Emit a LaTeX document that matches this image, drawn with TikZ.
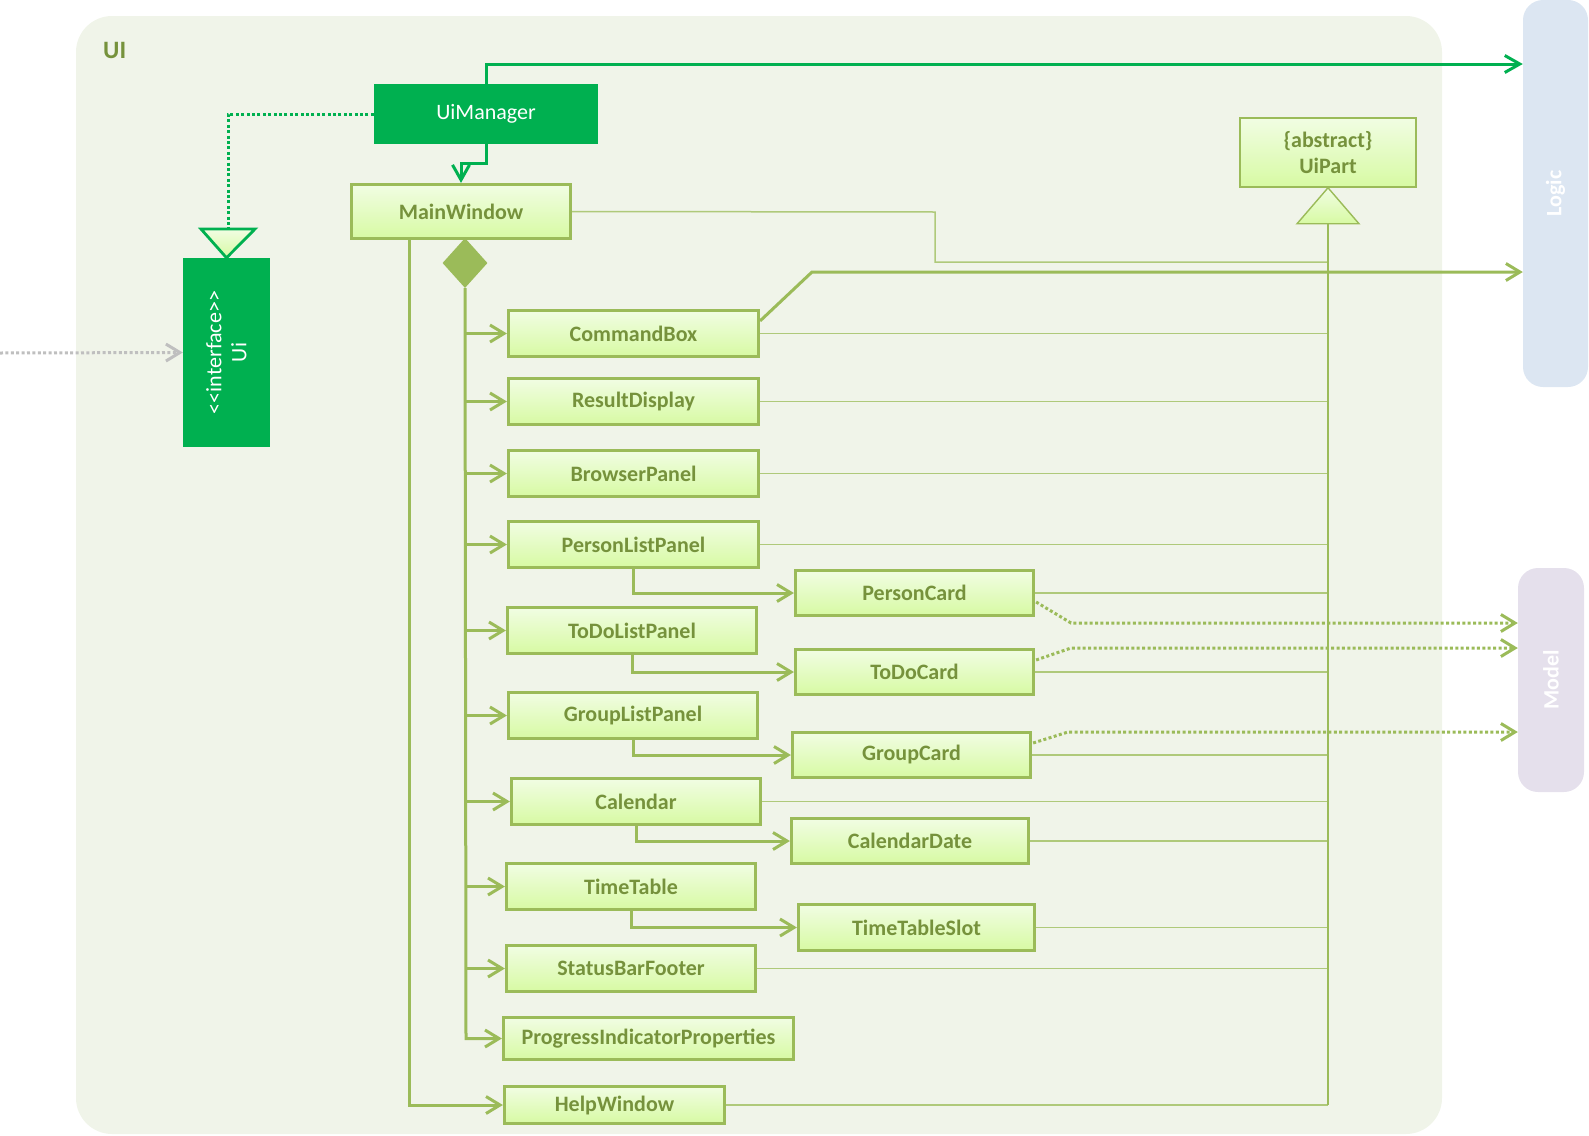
\documentclass[tikz,border=0pt]{standalone}
\usepackage{fontspec}
\setmainfont{Carlito}
\usetikzlibrary{arrows.meta,shapes.geometric,calc}
\definecolor{uigreen}{HTML}{00B050}
\definecolor{olive}{HTML}{9BBB59}
\definecolor{olivetext}{HTML}{76923C}
\definecolor{uibg}{HTML}{F0F4E9}
\definecolor{logicbg}{HTML}{DCE6F2}
\definecolor{modelbg}{HTML}{E5E0EC}
\definecolor{boxtop}{HTML}{F1FDE3}
\definecolor{boxbot}{HTML}{D7FAA3}
\definecolor{dotgray}{HTML}{BFBFBF}
\begin{document}
\begin{tikzpicture}[x=1pt,y=-1pt,
  cls/.style={draw=olive, line width=3.2pt, top color=boxtop, bottom color=boxbot, inner sep=0pt,
    font=\fontsize{22}{26}\selectfont\bfseries, text=olivetext, align=center},
  panel/.style={rounded corners=20pt, inner sep=0pt, draw=none},
  paneltext/.style={rotate=90, text=white, font=\fontsize{22}{26}\selectfont\bfseries},
  arr/.style={draw=olive, line width=3pt, -{Straight Barb[length=14pt,width=17pt]}},
  garr/.style={draw=uigreen, line width=3pt, -{Straight Barb[length=15pt,width=17pt]}},
  thinline/.style={draw=olive!80!white, line width=1.5pt},
  vline/.style={draw=olive, line width=2.6pt},
  dotarr/.style={draw=olive, line width=3pt, dash pattern=on 3pt off 2.4pt,
    -{Straight Barb[length=14pt,width=17pt,line width=3pt]}},
  greendot/.style={draw=uigreen, line width=3pt, dash pattern=on 3pt off 2.4pt},
  graydot/.style={draw=dotgray, line width=3pt, dash pattern=on 3pt off 2.4pt,
    -{Straight Barb[length=14pt,width=17pt,line width=3pt]}}
]
\useasboundingbox (0,0) rectangle (1589,1135);
% frames
\node[fill=uibg, rounded corners=36pt, inner sep=0pt, minimum width=1366pt, minimum height=1118pt] (uiframe) at (759,575) {};
\node[text=olivetext, font=\fontsize{25}{30}\selectfont\bfseries, anchor=west, inner sep=0pt] (uilabel) at (103,50) {UI};
\node[panel, fill=logicbg, minimum width=65pt, minimum height=387pt] (Logic) at (1555.5,193.5) {};
\node[paneltext] (logiclabel) at (Logic.center) {Logic};
\node[panel, fill=modelbg, minimum width=66pt, minimum height=224pt] (Model) at (1551,680) {};
\node[paneltext] (modellabel) at (Model.center) {Model};

% top classes
\node[fill=uigreen, text=white, inner sep=0pt, minimum width=224pt, minimum height=60pt,
  font=\fontsize{22}{26}\selectfont] (UiManager) at (486,114) {UiManager};
\node[fill=uigreen, inner sep=0pt, minimum width=87pt, minimum height=189pt] (Ui) at (226.5,352.5) {};
\node[rotate=90, text=white, align=center, font=\fontsize{22}{25}\selectfont] (uitext) at (Ui.center) {<{}<interface>{}>\\Ui};
\node[cls, minimum width=219pt, minimum height=54pt] (MainWindow) at (461,211.5) {MainWindow};
\node[cls, line width=1.5pt, minimum width=176pt, minimum height=69pt, font=\fontsize{22}{26}\selectfont\bfseries] (UiPart) at (1328,152.5) {\{abstract\}\\UiPart};

% component classes
\node[cls, minimum width=250pt, minimum height=46pt] (CommandBox) at (633.5,333.5) {CommandBox};
\node[cls, minimum width=250pt, minimum height=46pt] (ResultDisplay) at (633.5,401.5) {ResultDisplay};
\node[cls, minimum width=250pt, minimum height=46pt] (BrowserPanel) at (633.5,473.5) {BrowserPanel};
\node[cls, minimum width=250pt, minimum height=46pt] (PersonListPanel) at (633.5,544.5) {PersonListPanel};
\node[cls, minimum width=238pt, minimum height=45pt] (PersonCard) at (914.5,593) {PersonCard};
\node[cls, minimum width=249pt, minimum height=46pt] (ToDoListPanel) at (632,630.5) {ToDoListPanel};
\node[cls, minimum width=238pt, minimum height=45pt] (ToDoCard) at (914.5,672) {ToDoCard};
\node[cls, minimum width=249pt, minimum height=46pt] (GroupListPanel) at (633,715.5) {GroupListPanel};
\node[cls, minimum width=238pt, minimum height=45pt] (GroupCard) at (911.5,755) {GroupCard};
\node[cls, minimum width=249pt, minimum height=46pt] (Calendar) at (636,801.5) {Calendar};
\node[cls, minimum width=237pt, minimum height=45pt] (CalendarDate) at (910,841) {CalendarDate};
\node[cls, minimum width=249pt, minimum height=46pt] (TimeTable) at (631,886.5) {TimeTable};
\node[cls, minimum width=236pt, minimum height=46pt] (TimeTableSlot) at (916.5,927.5) {TimeTableSlot};
\node[cls, minimum width=249pt, minimum height=46pt] (StatusBarFooter) at (631,968.5) {StatusBarFooter};
\node[cls, minimum width=290pt, minimum height=42pt] (PIP) at (648.5,1038.5) {ProgressIndicatorProperties};
\node[cls, minimum width=220pt, minimum height=37pt] (HelpWindow) at (614.5,1105) {HelpWindow};

% composition diamond
\node[diamond, fill=olive, inner sep=0pt, minimum width=45pt, minimum height=50pt] (comp) at (465,263) {};

% UiManager connections
\coordinate (la) at (486,64);
\draw[garr] (UiManager.north) -- (la) -- (la -| Logic.west);
\draw[garr] (UiManager.south) -- ++(0,19) -| (MainWindow.north);
\coordinate (rl) at (228,114);
\coordinate (rb) at (228,229);
\draw[greendot] (UiManager.west) -- (rl) -- (rb);
\draw[draw=uigreen, line width=2.8pt, line join=miter, top color=boxtop, bottom color=boxbot]
  ($(rb)+(-27,0)$) -- ($(rb)+(27,0)$) -- (Ui.north) -- cycle;
\coordinate (lft) at (0,353);
\draw[graydot] (lft) -- (Ui.west);

% composition trunk
\coordinate (trunk) at (466,0);
\draw[arr] (comp.south) -- (trunk |- PIP.west) -- (PIP.west);
\foreach \b in {CommandBox,ResultDisplay,BrowserPanel,PersonListPanel,ToDoListPanel,GroupListPanel,Calendar,TimeTable,StatusBarFooter}
  \draw[arr] (trunk |- \b.west) -- (\b.west);
\coordinate (trunk2) at (409,240);
\draw[arr] (trunk2) -- (trunk2 |- HelpWindow.west) -- (HelpWindow.west);

% sub parts
\draw[arr] (PersonListPanel.south) |- (PersonCard.west);
\draw[arr] (ToDoListPanel.south) |- (ToDoCard.west);
\draw[arr] (GroupListPanel.south) |- (GroupCard.west);
\draw[arr] (Calendar.south) |- (CalendarDate.west);
\draw[arr] (TimeTable.south) |- (TimeTableSlot.west);

% inheritance to UiPart
\coordinate (tribase) at ($(UiPart.south)+(0,36)$);
\coordinate (mw1) at (935,212);
\coordinate (mw2) at (935,262);
\draw[thinline] (MainWindow.east) -- (mw1) -- (mw2) -- (mw2 -| tribase);
\foreach \b in {CommandBox,ResultDisplay,BrowserPanel,PersonListPanel,PersonCard,ToDoCard,GroupCard,Calendar,CalendarDate,TimeTableSlot,StatusBarFooter,HelpWindow}
  \draw[thinline] (\b.east) -- (\b.east -| tribase);
\draw[vline] (tribase) -- (tribase |- HelpWindow.east);
\draw[draw=olive, line width=1.4pt, top color=boxtop, bottom color=boxbot]
  ($(tribase)+(-31,0)$) -- ($(tribase)+(31,0)$) -- (UiPart.south) -- cycle;

% CommandBox to Logic
\coordinate (cb1) at (812,272);
\draw[arr, line width=3pt] ($(CommandBox.north east)+(0,12)$) -- (cb1) -- (cb1 -| Logic.west);

% cards to Model
\coordinate (pc1) at (1071,623);
\draw[dotarr] ($(PersonCard.east)+(1,9)$) -- (pc1) -- (pc1 -| Model.west);
\coordinate (tc1) at (1071,648);
\draw[dotarr] ($(ToDoCard.east)+(1,-12)$) -- (tc1) -- (tc1 -| Model.west);
\coordinate (gc1) at (1068,732);
\draw[dotarr] ($(GroupCard.east)+(1,-12)$) -- (gc1) -- (gc1 -| Model.west);
\end{tikzpicture}
\end{document}
